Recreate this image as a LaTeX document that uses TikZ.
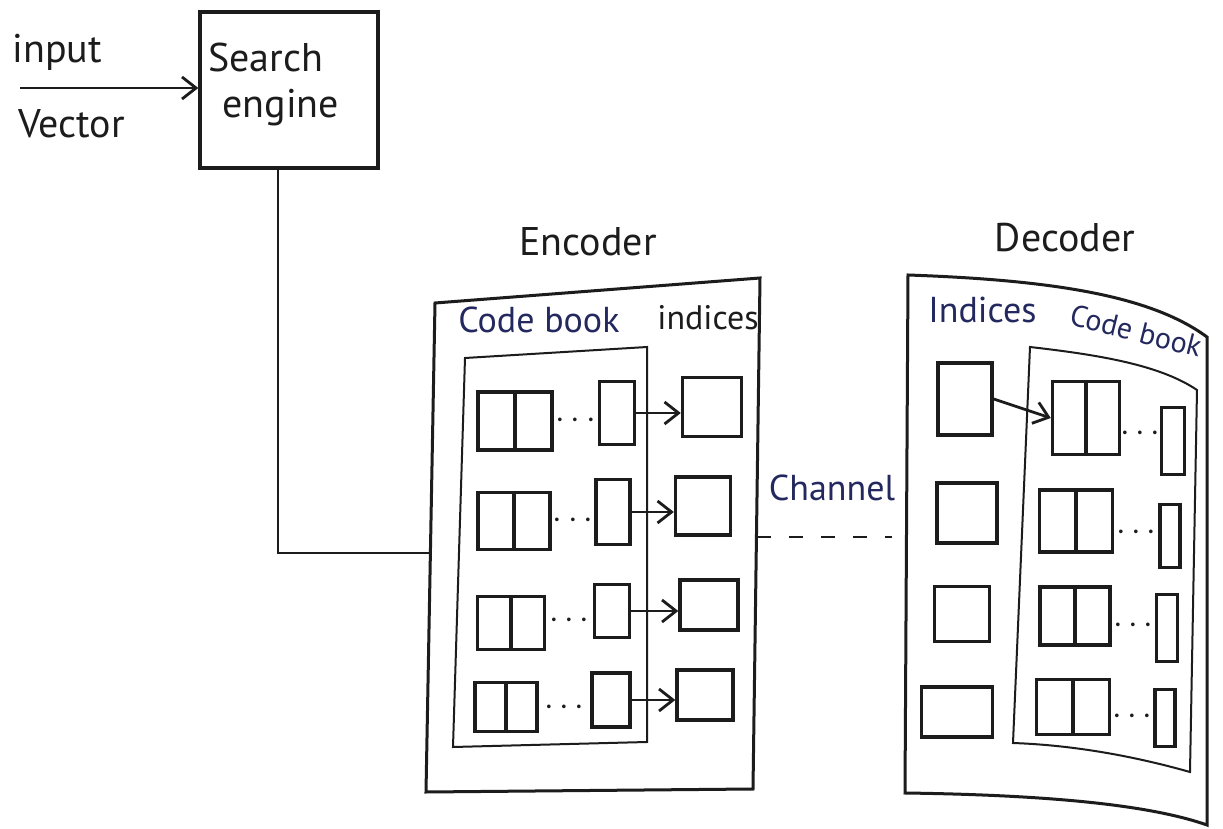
\documentclass[tikz,border=0pt]{standalone}
\usepackage{fontspec}
\setmainfont{PT Sans}
\usetikzlibrary{arrows.meta,calc}
\definecolor{ink}{HTML}{1C1C1C}
\definecolor{blueink}{HTML}{23285E}
\newcommand\mkbox[6][]{\node[cellbox,#1,minimum width=#5*0.5pt,minimum height=#6*0.5pt] (#2) at (#3,#4) {};}
\begin{document}
\begin{tikzpicture}[x=0.5pt,y=-0.5pt,
  cellbox/.style={draw=ink,line width=1.7pt,inner sep=0pt},
  frame/.style={draw=ink,line width=1.5pt},
  thinframe/.style={draw=ink,line width=1pt},
  lbl/.style={text=ink,inner sep=0pt,font=\fontsize{20}{24}\selectfont},
  blbl/.style={text=blueink,inner sep=0pt,font=\fontsize{18}{22}\selectfont},
  conn/.style={draw=ink,line width=1.4pt},
  arr/.style={conn,-{Straight Barb[length=7pt,width=11pt,line width=1.4pt]}},
  dotsnode/.style={inner sep=0pt,text=ink,font=\fontsize{18}{18}\selectfont}]
\useasboundingbox[fill=white] (0,0) rectangle (1223,829);

% input and search engine
\node[lbl,anchor=base west] (tin) at (12,63) {input};
\node[lbl,anchor=base west] (tvec) at (18,138) {Vector};
\mkbox{se}{289}{90}{178}{156}
\node[lbl,anchor=base west] (tsearch) at (208,72) {Search};
\node[lbl,anchor=base west] (tengine) at (222,118) {engine};
\coordinate (inp) at (20,88);
\draw[arr] (inp) -- (se.west |- inp);

% encoder frame
\node[lbl,anchor=base] (enclbl) at (588,256) {Encoder};
\coordinate (E1) at (435,303);
\coordinate (E2) at (760,278);
\coordinate (E3) at (753,789);
\coordinate (E4) at (426,792);
\draw[frame] (E1) -- (E2) -- (E3) -- (E4) -- cycle;
\coordinate (encin) at (430,553);
\draw[conn] ([xshift=-5.5pt]se.south) |- (encin);
\node[blbl,anchor=base west] (cbE) at (458,333) {Code book};
\node[lbl,font=\fontsize{17}{20}\selectfont,anchor=base west] (ixE) at (657,329) {indices};
\draw[thinframe] (465,358) -- (647,347) -- (647,742) -- (453,747) -- cycle;

% encoder rows
\mkbox{ed1}{515}{421}{74}{58}
\mkbox{es1}{617}{413}{35}{63}
\mkbox{ei1}{712}{407}{59}{59}
\mkbox{ed2}{514}{521}{72}{57}
\mkbox{es2}{613}{512}{34}{65}
\mkbox{ei2}{703}{506}{55}{58}
\mkbox{ed3}{511}{623}{67}{53}
\mkbox{es3}{612}{611}{35}{53}
\mkbox{ei3}{709}{605}{58}{50}
\mkbox{ed4}{506}{707}{62}{49}
\mkbox{es4}{611}{700}{38}{54}
\mkbox{ei4}{705}{695}{56}{50}
\foreach \i in {1,...,4}{
  \draw[cellbox] (ed\i.north) -- (ed\i.south);
  \node[dotsnode] (edots\i) at ($(ed\i.east)!0.5!(es\i.west)+(0,4)$) {$\cdots$};
  \draw[arr] (es\i.east) -- (ei\i.west |- es\i.east);
}

% channel
\node[blbl,anchor=base] (chl) at (832,500) {Channel};
\coordinate (ch1) at (757,537);
\coordinate (ch2) at (892,537);
\draw[conn,dash pattern=on 7pt off 9pt] (ch1) -- (ch2);

% decoder frame
\node[lbl,anchor=base] (declbl) at (1065,252) {Decoder};
\draw[frame] (908,275) .. controls (1050,280) and (1150,295) .. (1207,337)
  -- (1207,825) .. controls (1150,805) and (1050,795) .. (905,793) -- cycle;
\draw[thinframe] (1030,347) .. controls (1100,355) and (1160,365) .. (1197,390)
  -- (1190,772) .. controls (1130,755) and (1070,745) .. (1013,743) -- cycle;
\node[blbl,anchor=base west] (ixD) at (928,322) {Indices};
\node[blbl,rotate=-14,font=\fontsize{15}{18}\selectfont] (cbD) at (1136,331) {Code book};

% decoder rows
\mkbox{di1}{965}{399}{54}{72}
\mkbox{dd1}{1086}{418}{67}{73}
\mkbox{ds1}{1173}{441}{23}{67}
\mkbox{di2}{967}{513}{60}{60}
\mkbox{dd2}{1076}{521}{73}{62}
\mkbox{ds2}{1170}{536}{20}{63}
\mkbox{di3}{962}{614}{55}{55}
\mkbox{dd3}{1075}{616}{70}{58}
\mkbox{ds3}{1167}{628}{21}{67}
\mkbox{di4}{957}{712}{71}{50}
\mkbox{dd4}{1073}{707}{73}{55}
\mkbox{ds4}{1165}{718}{20}{57}
\foreach \i in {1,...,4}{
  \draw[cellbox] (dd\i.north) -- (dd\i.south);
  \node[dotsnode] (ddots\i) at ($(dd\i.east)!0.5!(ds\i.west)+(0,4)$) {$\cdots$};
}
\draw[arr] (di1.east) -- (dd1.west);
\end{tikzpicture}
\end{document}
